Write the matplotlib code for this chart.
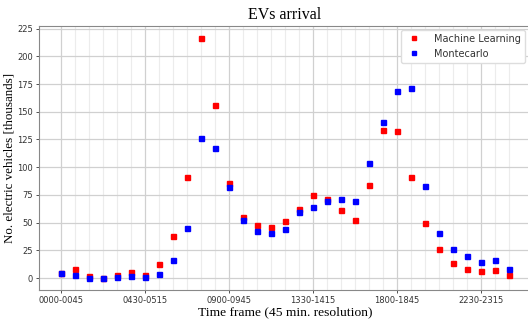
import numpy as np
import matplotlib
matplotlib.use("Agg")
import matplotlib.pyplot as plt

frames = ["0000-0045", "0045-0130", "0130-0215", "0215-0300", "0300-0345",
          "0345-0430", "0430-0515", "0515-0600", "0600-0645", "0645-0730",
          "0730-0815", "0815-0900", "0900-0945", "0945-1030", "1030-1115",
          "1115-1200", "1200-1245", "1245-1330", "1330-1415", "1415-1500",
          "1500-1545", "1545-1630", "1630-1715", "1715-1800", "1800-1845",
          "1845-1930", "1930-2015", "2015-2100", "2100-2145", "2145-2230",
          "2230-2315", "2315-2400", "2400-2445"]
ml = [4.5, 7.8, 1.8, 0.3, 2.7, 5.7, 3.0, 12.3, 37.9, 91.4, 216.6, 155.8, 86.0,
      54.7, 47.8, 46.0, 51.4, 62.3, 74.6, 71.0, 61.4, 52.6, 83.9, 133.2, 132.3,
      91.4, 49.3, 25.8, 13.8, 7.8, 6.3, 6.9, 3.0]
mc = [4.5, 2.4, 0.3, 0.0, 0.9, 1.8, 0.9, 3.6, 16.2, 45.1, 126.4, 117.6, 81.8,
      52.0, 42.4, 40.3, 43.9, 59.2, 63.7, 69.5, 71.6, 69.8, 103.4, 140.4, 169.0,
      171.5, 83.3, 40.9, 26.4, 19.5, 14.7, 16.5, 7.8]
tick_labels = ["0000-0045", "0430-0515", "0900-0945", "1330-1415", "1800-1845", "2230-2315"]

fig = plt.figure(figsize=(5.28, 3.2), dpi=100)
ax = fig.add_axes([39/528, 1-290/320, (531-39)/528, (290-26)/320])

idx = np.arange(len(frames))
ax.plot(idx, ml, 's', color='red', markersize=3.6, label='Machine Learning', zorder=3)
ax.plot(idx, mc, 's', color='blue', markersize=3.6, label='Montecarlo', zorder=3)

major_pos = [frames.index(t) for t in tick_labels]
ax.set_xticks(major_pos)
ax.set_xticklabels(tick_labels)
ax.set_xticks(idx, minor=True)
ax.set_yticks([0, 25, 50, 75, 100, 125, 150, 175, 200, 225])
ax.grid(which='major', color='#d0d0d0', linewidth=0.9)
ax.grid(which='minor', color='#ececec', linewidth=0.8)
ax.set_axisbelow(True)
ax.tick_params(which='both', labelsize=6, colors='#333333', length=2.5, width=0.6, pad=2)
ax.tick_params(which='minor', length=0)
for s in ax.spines.values():
    s.set_color('#888888')
    s.set_linewidth(0.8)

serif = ['Liberation Serif', 'DejaVu Serif']
ax.set_title('EVs arrival', family=serif, fontsize=11.5, pad=5)
ax.set_xlabel('Time frame (45 min. resolution)', family=serif, fontsize=9.7, labelpad=1)
ax.set_ylabel('No. electric vehicles [thousands]', family=serif, fontsize=9.4, labelpad=1)
leg = ax.legend(loc='upper right', fontsize=7, markerscale=0.8, bbox_to_anchor=(0.995, 1.0),
                borderaxespad=0.4, handletextpad=1.0, framealpha=1)
leg.get_frame().set_edgecolor('#dddddd')
for t in leg.get_texts():
    t.set_color('#333333')

fig.savefig('out.png', dpi=100)
